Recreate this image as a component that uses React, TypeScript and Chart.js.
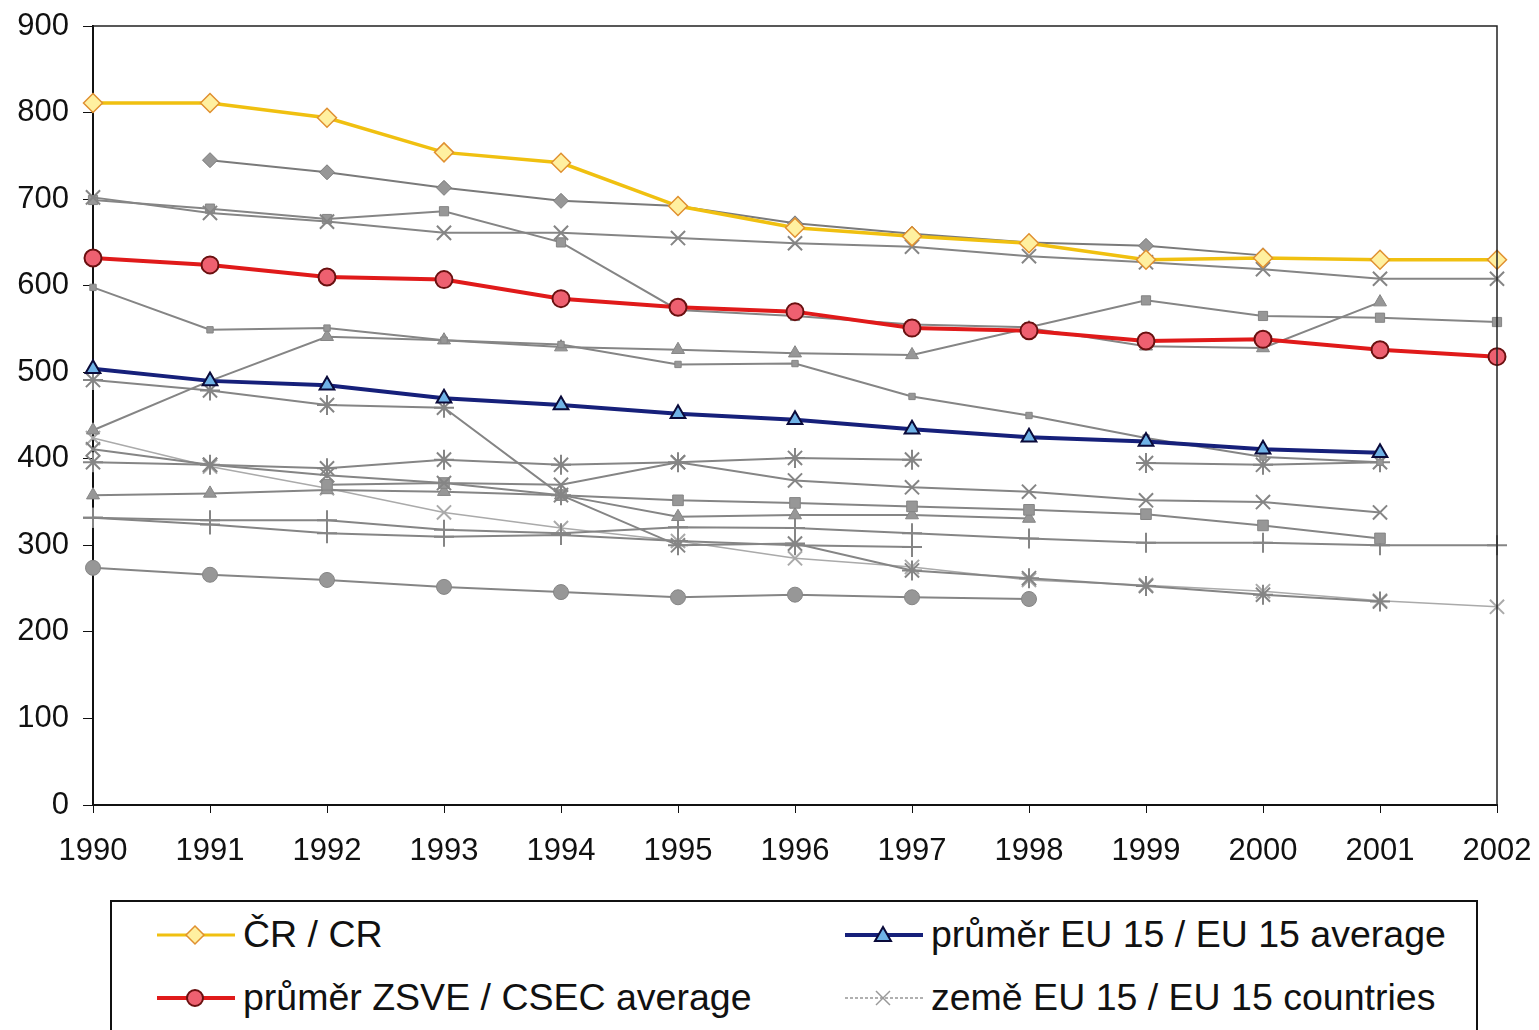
import React, { useEffect, useRef } from "react";
import { Chart, registerables } from "chart.js";

Chart.register(...registerables);

const years = ["1990","1991","1992","1993","1994","1995","1996","1997","1998","1999","2000","2001","2002"];
const yTicks = [0, 100, 200, 300, 400, 500, 600, 700, 800, 900];

const crValues = [811, 811, 794, 754, 742, 692, 667, 657, 649, 630, 632, 630, 630];
const eu15Avg = [504, 490, 485, 470, 462, 452, 445, 434, 425, 420, 411, 407, null];
const csecAvg = [632, 624, 610, 607, 585, 575, 570, 551, 548, 536, 538, 526, 518];

// grey country series
const greyDiamond = [null, 745, 731, 713, 698, 692, 672, 660, 650, 646, 635, null, null];
const greyXTop = [702, 684, 674, 661, 661, 655, 649, 645, 634, 627, 619, 608, 608];
const greySquareTop = [699, 689, 677, 686, 650, 572, 565, 555, 552, 583, 565, 563, 558];
const greyDash600 = [598, 549, 551, 537, 532, 509, 510, 472, 450, 424, 402, 396, null];
const greyTriTop = [433, 490, 541, 537, 529, 526, 522, 520, 551, 530, 528, 581, null];
const greyStarDrop = [491, 479, 462, 459, 358, 300, 302, 271, 262, 253, 243, 235, null];
const greyX400 = [396, 393, 389, 399, 393, 396, 401, 399, null, 395, 393, 396, null];
const greyX350 = [411, 393, 381, 372, 370, 396, 375, 367, 362, 352, 350, 338, null];
const greySquareLow = [null, null, 370, 372, 358, 352, 349, 345, 341, 336, 323, 308, null];
const greyTriLow = [358, 360, 364, 362, 358, 333, 335, 335, 331, null, null, null, null];
const greyPlus1 = [332, 329, 329, 318, 314, 321, 320, 314, 308, 303, 303, 300, 300];
const greyPlus2 = [332, 324, 314, 310, 312, 305, 300, 298, null, null, null, null, null];
const greyLightX = [424, 391, 366, 338, 320, 305, 285, 275, 260, 254, 247, 236, 229];
const greyCircle = [274, 266, 260, 252, 246, 240, 243, 240, 238, null, null, null, null];

const GREY = "#858585";
const GREY_FILL = "#979797";
const FONT = "'Liberation Sans', Arial, sans-serif";

function greySet(label: string, data: (number | null)[], style: string, opts: any = {}) {
  const crossLike = style === "crossRot" || style === "star" || style === "cross";
  return {
    label,
    data,
    borderColor: opts.color || GREY,
    borderWidth: opts.width || 2,
    borderDash: opts.dash || [],
    pointStyle: style,
    pointRadius: opts.radius || (crossLike ? 10 : 7.5),
    pointBackgroundColor: GREY_FILL,
    pointBorderColor: opts.color || GREY,
    pointBorderWidth: crossLike ? 2 : 1,
    spanGaps: false,
    tension: 0,
  };
}

const framePlugin = {
  id: "frame",
  afterDraw(chart: any) {
    const { ctx, chartArea } = chart;
    ctx.save();
    ctx.strokeStyle = "#222";
    ctx.lineWidth = 1.5;
    ctx.beginPath();
    ctx.moveTo(chartArea.left, chartArea.top);
    ctx.lineTo(chartArea.right, chartArea.top);
    ctx.lineTo(chartArea.right, chartArea.bottom);
    ctx.stroke();
    ctx.restore();
  },
};

function LegendSample({ color, width, marker, fill, stroke, dash }: any) {
  let m: any = null;
  const cx = 38, cy = 14;
  if (marker === "diamond") m = <polygon points={`${cx},${cy - 9} ${cx + 9},${cy} ${cx},${cy + 9} ${cx - 9},${cy}`} fill={fill} stroke={stroke} strokeWidth={1.5} />;
  if (marker === "triangle") m = <polygon points={`${cx},${cy - 8} ${cx + 8},${cy + 6} ${cx - 8},${cy + 6}`} fill={fill} stroke={stroke} strokeWidth={2} />;
  if (marker === "circle") m = <circle cx={cx} cy={cy} r={8} fill={fill} stroke={stroke} strokeWidth={2} />;
  if (marker === "x") m = (
    <g stroke={stroke} strokeWidth={1.5}>
      <line x1={cx - 7} y1={cy - 7} x2={cx + 7} y2={cy + 7} />
      <line x1={cx - 7} y1={cy + 7} x2={cx + 7} y2={cy - 7} />
    </g>
  );
  return (
    <svg width={78} height={28} style={{ display: "block" }}>
      <line x1={0} y1={cy} x2={78} y2={cy} stroke={color} strokeWidth={width} strokeDasharray={dash} />
      {m}
    </svg>
  );
}

export default function App() {
  const ref = useRef<HTMLCanvasElement | null>(null);

  useEffect(() => {
    if (!ref.current) return;
    const chart = new Chart(ref.current, {
      type: "line",
      data: {
        labels: years,
        datasets: [
          {
            label: "ČR / CR",
            data: crValues,
            borderColor: "#f0c010",
            borderWidth: 3.5,
            pointStyle: "rectRot",
            pointRadius: 9.5,
            pointBackgroundColor: "#fff0a0",
            pointBorderColor: "#e09030",
            pointBorderWidth: 1.5,
            tension: 0,
          },
          {
            label: "průměr EU 15 / EU 15 average",
            data: eu15Avg,
            borderColor: "#16207a",
            borderWidth: 4,
            pointStyle: "triangle",
            pointRadius: 8.5,
            pointBackgroundColor: "#6fb2e6",
            pointBorderColor: "#0a0a3a",
            pointBorderWidth: 2,
            tension: 0,
          },
          {
            label: "průměr ZSVE / CSEC average",
            data: csecAvg,
            borderColor: "#e01a1a",
            borderWidth: 4,
            pointStyle: "circle",
            pointRadius: 8.5,
            pointBackgroundColor: "#ee6070",
            pointBorderColor: "#6a1010",
            pointBorderWidth: 2,
            tension: 0,
          },
          greySet("země EU 15 / EU 15 countries", greyXTop, "crossRot"),
          greySet("g1", greyDiamond, "rectRot", { color: "#7a7a7a" }),
          greySet("g3", greySquareTop, "rect", { radius: 6.5 }),
          greySet("g4", greyDash600, "rect", { radius: 4.5 }),
          greySet("g5", greyTriTop, "triangle"),
          greySet("g6", greyStarDrop, "star"),
          greySet("g7", greyX400, "star"),
          greySet("g8", greyX350, "crossRot"),
          greySet("g9", greySquareLow, "rect", { radius: 7.5 }),
          greySet("g10", greyTriLow, "triangle"),
          greySet("g11", greyPlus1, "cross"),
          greySet("g12", greyPlus2, "cross"),
          greySet("g13", greyLightX, "crossRot", { color: "#aaaaaa", width: 1.5 }),
          greySet("g14", greyCircle, "circle"),
        ] as any,
      },
      options: {
        responsive: false,
        animation: false,
        layout: { padding: { left: 0, right: 42, top: 26, bottom: 0 } },
        plugins: {
          legend: { display: false },
          tooltip: { enabled: false },
        },
        scales: {
          x: {
            type: "category",
            offset: false,
            afterFit: (s: any) => { s.height = 75; s.paddingLeft = 0; s.paddingRight = 0; },
            grid: { display: true, drawOnChartArea: false, drawTicks: true, tickLength: 8, color: "#111" },
            border: { color: "#111", width: 2 },
            ticks: { color: "#111", font: { family: FONT, size: 31 }, padding: 20, maxRotation: 0, autoSkip: false },
          },
          y: {
            min: 0,
            max: 900,
            afterFit: (s: any) => { s.width = 93; s.paddingTop = 0; s.paddingBottom = 0; },
            afterBuildTicks: (s: any) => { s.ticks = yTicks.map((v) => ({ value: v })); },
            grid: { display: true, drawOnChartArea: false, drawTicks: true, tickLength: 10, color: "#111" },
            border: { color: "#111", width: 2 },
            ticks: { color: "#111", font: { family: FONT, size: 31 }, padding: 14 },
          },
        },
      },
      plugins: [framePlugin],
    });
    return () => chart.destroy();
  }, []);

  const legendText: React.CSSProperties = { fontFamily: FONT, fontSize: 37.5, color: "#111", whiteSpace: "nowrap", marginLeft: 8 };
  const row: React.CSSProperties = { position: "absolute", display: "flex", alignItems: "center" };

  return (
    <div style={{ position: "absolute", left: 0, top: 0, width: 1539, height: 1030, background: "#fff", overflow: "hidden" }}>
      <canvas ref={ref} width={1539} height={880} style={{ position: "absolute", left: 0, top: 0 }} />
      <div style={{ position: "absolute", left: 110, top: 900, width: 1368, height: 140, border: "2px solid #111", boxSizing: "border-box" }}>
        <div style={{ ...row, left: 45, top: 11 }}>
          <LegendSample color="#f0c010" width={3} marker="diamond" fill="#fff0a0" stroke="#e09030" />
          <span style={legendText}>ČR / CR</span>
        </div>
        <div style={{ ...row, left: 733, top: 11 }}>
          <LegendSample color="#16207a" width={4} marker="triangle" fill="#6fb2e6" stroke="#0a0a3a" />
          <span style={legendText}>průměr EU 15 / EU 15 average</span>
        </div>
        <div style={{ ...row, left: 45, top: 74 }}>
          <LegendSample color="#e01a1a" width={4} marker="circle" fill="#ee6070" stroke="#6a1010" />
          <span style={legendText}>průměr ZSVE / CSEC average</span>
        </div>
        <div style={{ ...row, left: 733, top: 74 }}>
          <LegendSample color="#b0b0b0" width={2} marker="x" stroke="#999" dash="3 2" />
          <span style={legendText}>země EU 15 / EU 15 countries</span>
        </div>
      </div>
    </div>
  );
}
